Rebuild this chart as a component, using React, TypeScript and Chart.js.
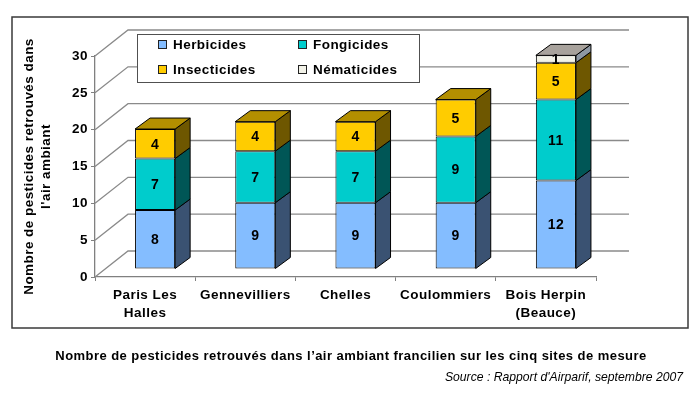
import React, { useEffect, useRef } from 'react';
import { Chart, registerables } from 'chart.js';

Chart.register(...registerables);

// ---------- data ----------
const categories: (string | string[])[] = [
  ['Paris Les', 'Halles'],
  'Gennevilliers',
  'Chelles',
  'Coulommiers',
  ['Bois Herpin', '(Beauce)'],
];
const seriesNames = ['Herbicides', 'Fongicides', 'Insecticides', 'Nématicides'];
const herbicides = [8, 9, 9, 9, 12];
const fongicides = [7, 7, 7, 9, 11];
const insecticides = [4, 4, 4, 5, 5];
const nematicides = [null, null, null, null, 1];
const yTicks = [0, 5, 10, 15, 20, 25, 30];
const yTitle = ['Nombre de pesticides retrouvés dans', "l'air ambiant"];
const caption = "Nombre de pesticides retrouvés dans l’air ambiant francilien sur les cinq sites de mesure";
const source = "Source : Rapport d'Airparif, septembre 2007";

// ---------- styles ----------
const FONT = "'Liberation Sans', Arial, Helvetica, sans-serif";
const frontColors = ['#84BDFF', '#00CCCC', '#FFCC00', '#F2F2E8'];
const sideColors = ['#3A5272', '#005656', '#6E5700', '#8E98A4'];
const topColors = ['#5A7DA8', '#008F8F', '#B38F00', '#A8A29C'];
const DEPTH_X = 33;
const DEPTH_Y = -26;
const FRONT_FX = 10;
const FRONT_FY = -8;
const BAR_DX = 15;
const BAR_DY = -11;
const SPACING = '0.45px';

function poly(ctx: CanvasRenderingContext2D, pts: number[][], fill: string) {
  ctx.beginPath();
  ctx.moveTo(pts[0][0], pts[0][1]);
  for (let i = 1; i < pts.length; i++) ctx.lineTo(pts[i][0], pts[i][1]);
  ctx.closePath();
  ctx.fillStyle = fill;
  ctx.fill();
  ctx.stroke();
}

function drawLegend(chart: any) {
  const ctx: CanvasRenderingContext2D = chart.ctx;
  ctx.save();
  ctx.fillStyle = '#ffffff';
  ctx.fillRect(137.5, 34.5, 282, 48);
  ctx.strokeStyle = '#505050';
  ctx.lineWidth = 1;
  ctx.strokeRect(137.5, 34.5, 282, 48);
  const cols = [158.5, 298.5];
  const rows = [45, 70];
  ctx.font = `bold 13.5px ${FONT}`;
  ctx.textBaseline = 'middle';
  ctx.textAlign = 'left';
  chart.data.datasets.forEach((ds: any, i: number) => {
    const cx = cols[i % 2];
    const cy = rows[Math.floor(i / 2)];
    ctx.fillStyle = ds.backgroundColor;
    ctx.fillRect(cx, cy - 4.5, 8, 8);
    ctx.strokeStyle = '#222';
    ctx.strokeRect(cx, cy - 4.5, 8, 8);
    ctx.fillStyle = '#000';
    ctx.fillText(ds.label, cx + 14.5, cy);
  });
  ctx.restore();
}

const threeD = {
  id: 'threeD',
  beforeDraw(chart: any) {
    (chart.ctx as any).letterSpacing = SPACING;
  },
  beforeDatasetsDraw(chart: any) {
    const { ctx, chartArea, scales } = chart;
    const ys = scales.y;
    ctx.save();
    ctx.strokeStyle = '#8a8a8a';
    ctx.lineWidth = 1.3;
    for (const v of yTicks) {
      const py = ys.getPixelForValue(v);
      ctx.beginPath();
      ctx.moveTo(chartArea.left, py);
      ctx.lineTo(chartArea.left + DEPTH_X, py + DEPTH_Y);
      ctx.lineTo(chartArea.right + DEPTH_X, py + DEPTH_Y);
      ctx.stroke();
    }
    ctx.restore();
    drawLegend(chart);
    ctx.save();
    ctx.translate(FRONT_FX, FRONT_FY);
  },
  afterDatasetsDraw(chart: any) {
    const ctx: CanvasRenderingContext2D = chart.ctx;
    ctx.restore();
    const n = chart.data.labels.length;
    ctx.save();
    ctx.strokeStyle = '#000';
    ctx.lineWidth = 1;
    ctx.lineJoin = 'miter';
    for (let i = 0; i < n; i++) {
      let topIdx = -1;
      chart.data.datasets.forEach((ds: any, d: number) => {
        const v = ds.data[i];
        if (v != null && v > 0) topIdx = d;
      });
      const labels: any[] = [];
      chart.data.datasets.forEach((ds: any, d: number) => {
        const v = ds.data[i];
        if (v == null || v <= 0) return;
        const el = chart.getDatasetMeta(d).data[i];
        const { x, y, base, width } = el.getProps(['x', 'y', 'base', 'width'], true);
        const l = x - width / 2 + FRONT_FX;
        const r = x + width / 2 + FRONT_FX;
        const t = y + FRONT_FY;
        const b = base + FRONT_FY;
        poly(ctx, [[r, t], [r + BAR_DX, t + BAR_DY], [r + BAR_DX, b + BAR_DY], [r, b]], sideColors[d]);
        if (d === topIdx) {
          poly(ctx, [[l, t], [l + BAR_DX, t + BAR_DY], [r + BAR_DX, t + BAR_DY], [r, t]], topColors[d]);
        }
        labels.push({ x: x + FRONT_FX, y: (t + b) / 2, v });
      });
      ctx.fillStyle = '#000';
      ctx.font = `bold 14px ${FONT}`;
      ctx.textAlign = 'center';
      ctx.textBaseline = 'middle';
      labels.forEach((lb) => ctx.fillText(String(lb.v), lb.x, lb.y + 1));
    }
    ctx.restore();
  },
  afterDraw(chart: any) {
    const ctx: CanvasRenderingContext2D = chart.ctx;
    ctx.save();
    ctx.strokeStyle = '#3a3a3a';
    ctx.lineWidth = 1.5;
    ctx.strokeRect(12, 17, 676, 311);
    ctx.fillStyle = '#000';
    ctx.textBaseline = 'middle';
    ctx.textAlign = 'center';
    (ctx as any).letterSpacing = SPACING;
    ctx.font = `bold 13px ${FONT}`;
    ctx.fillText(caption, 351, 356);
    (ctx as any).letterSpacing = '0px';
    ctx.textAlign = 'right';
    ctx.font = `italic 12.2px ${FONT}`;
    ctx.fillText(source, 683, 378);
    ctx.restore();
    (ctx as any).letterSpacing = '0px';
  },
};

export default function App() {
  const ref = useRef<HTMLCanvasElement | null>(null);
  useEffect(() => {
    if (!ref.current) return;
    const datasetsValues = [herbicides, fongicides, insecticides, nematicides];
    const chart = new Chart(ref.current, {
      type: 'bar',
      data: {
        labels: categories as any,
        datasets: datasetsValues.map((vals, i) => ({
          label: seriesNames[i],
          data: vals as any,
          backgroundColor: frontColors[i],
          borderColor: '#000',
          borderWidth: 1,
          borderSkipped: false,
          barPercentage: 0.4,
          categoryPercentage: 1,
          clip: false as any,
        })),
      },
      options: {
        responsive: false,
        animation: false,
        devicePixelRatio: 1,
        layout: { padding: { left: 0, top: 56, right: 104, bottom: 0 } },
        plugins: {
          legend: { display: false },
          tooltip: { enabled: false },
        },
        scales: {
          x: {
            stacked: true,
            offset: true,
            grid: { drawOnChartArea: false, drawTicks: true, tickLength: 4, color: '#808080', offset: true },
            border: { display: true, color: '#808080', width: 1.3 },
            ticks: {
              color: '#000',
              padding: 5,
              maxRotation: 0,
              autoSkip: false,
              font: { family: FONT, size: 13.5, weight: 'bold', lineHeight: 1.33 },
            },
            afterFit: (s: any) => { s.height = 119; },
          },
          y: {
            stacked: true,
            min: 0,
            max: 30,
            grid: { drawOnChartArea: false, drawTicks: true, tickLength: 4, color: '#808080' },
            border: { display: true, color: '#808080', width: 1.3 },
            ticks: {
              stepSize: 5,
              color: '#000',
              padding: 3,
              font: { family: FONT, size: 13.5, weight: 'bold' },
            },
            title: {
              display: true,
              text: yTitle,
              color: '#000',
              padding: { top: 20.5, bottom: 0 },
              font: { family: FONT, size: 13.5, weight: 'bold', lineHeight: 1.26 },
            },
            afterFit: (s: any) => { s.width = 95; },
          },
        },
      },
      plugins: [threeD],
    });
    return () => chart.destroy();
  }, []);
  return (
    <div style={{ position: 'absolute', left: 0, top: 0, width: 700, height: 396, background: '#fff' }}>
      <canvas ref={ref} width={700} height={396} style={{ display: 'block', width: 700, height: 396 }} />
    </div>
  );
}
